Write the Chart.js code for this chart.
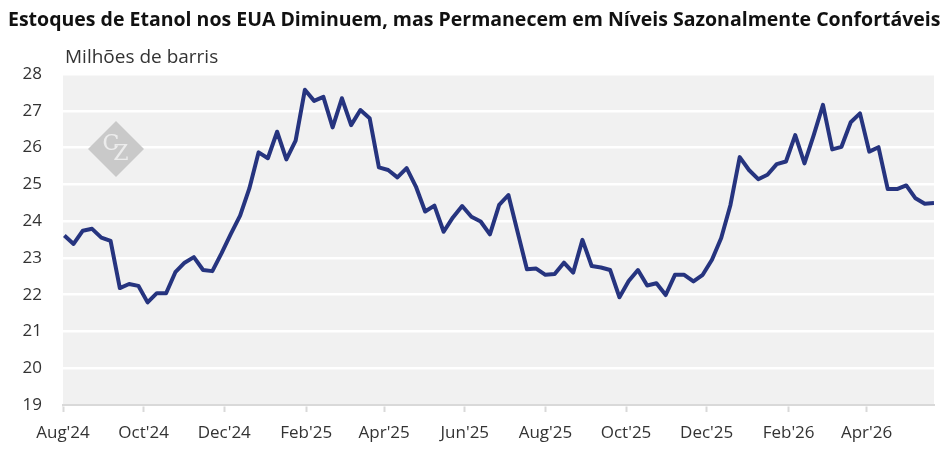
<!DOCTYPE html>
<html>
<head>
<meta charset="utf-8">
<script src="https://cdn.jsdelivr.net/npm/chart.js@4/dist/chart.umd.min.js"></script>
<style>
  html, body { margin: 0; padding: 0; background: #fff; }
  #wrap { position: relative; width: 950px; height: 455px; font-family: "Open Sans", sans-serif; }
  #title { position: absolute; left: 8px; top: 5px; font-size: 19.5px; font-weight: bold; color: #111; white-space: nowrap; }
  #unit { position: absolute; left: 65px; top: 43px; font-size: 19px; color: #333; }
  canvas { position: absolute; left: 0; top: 0; }
</style>
</head>
<body>
<div id="wrap">
  <canvas id="stocksChart" width="950" height="455"></canvas>
  <div id="title">Estoques de Etanol nos EUA Diminuem, mas Permanecem em Níveis Sazonalmente Confortáveis</div>
  <div id="unit">Milhões de barris</div>
</div>
<script>
// Semanas (sexta-feira), a partir de 02/08/2024
const firstWeek = '2024-08-02';
const axisStart = '2024-08-01';

// Estoques semanais de etanol (milhões de barris)
const stocks = [
  23.61, 23.38, 23.74, 23.79, 23.55, 23.46, 22.18, 22.29, 22.24, 21.79,
  22.04, 22.04, 22.61, 22.87, 23.02, 22.67, 22.64, 23.13, 23.65, 24.15,
  24.89, 25.87, 25.71, 26.43, 25.68, 26.19, 27.57, 27.27, 27.38, 26.55,
  27.34, 26.61, 27.02, 26.80, 25.46, 25.39, 25.19, 25.44, 24.94, 24.26,
  24.42, 23.71, 24.10, 24.41, 24.12, 23.99, 23.64, 24.44, 24.71, 23.70,
  22.69, 22.71, 22.54, 22.56, 22.87, 22.60, 23.49, 22.78, 22.74, 22.67,
  21.93, 22.37, 22.67, 22.25, 22.31, 21.99, 22.54, 22.54, 22.36, 22.54,
  22.95, 23.54, 24.44, 25.74, 25.39, 25.14, 25.26, 25.55, 25.62, 26.34,
  25.57, 26.34, 27.16, 25.95, 26.02, 26.69, 26.93, 25.89, 26.01, 24.87,
  24.87, 24.97, 24.62, 24.47, 24.49
];

// Marcas do eixo X
const tickDates = ['2024-08-01', '2024-10-01', '2024-12-01', '2025-02-01', '2025-04-01', '2025-06-01',
                   '2025-08-01', '2025-10-01', '2025-12-01', '2026-02-01', '2026-04-01'];
const tickLabels = ["Aug'24", "Oct'24", "Dec'24", "Feb'25", "Apr'25", "Jun'25",
                    "Aug'25", "Oct'25", "Dec'25", "Feb'26", "Apr'26"];

const DAY = 86400000;
const t0 = Date.parse(firstWeek);
const points = stocks.map((v, i) => ({ x: t0 + i * 7 * DAY, y: v }));
const tickValues = tickDates.map(d => Date.parse(d));

// fundo cinza da área do gráfico
const plotBg = {
  id: 'plotBg',
  beforeDraw(chart) {
    const { ctx, chartArea: a } = chart;
    ctx.save();
    ctx.fillStyle = '#f1f1f1';
    ctx.fillRect(a.left, a.top, a.right - a.left, a.bottom - a.top);
    ctx.restore();
  }
};

// marca d'água CZ
const watermark = {
  id: 'watermark',
  beforeDatasetsDraw(chart) {
    const ctx = chart.ctx;
    const cx = 116, cy = 149, r = 28;
    ctx.save();
    ctx.fillStyle = '#c9c9c9';
    ctx.beginPath();
    ctx.moveTo(cx, cy - r);
    ctx.lineTo(cx + r, cy);
    ctx.lineTo(cx, cy + r);
    ctx.lineTo(cx - r, cy);
    ctx.closePath();
    ctx.fill();
    ctx.fillStyle = '#ececec';
    ctx.font = '22px "DejaVu Serif", serif';
    ctx.textAlign = 'center';
    ctx.textBaseline = 'middle';
    ctx.fillText('C', cx - 5, cy - 5);
    ctx.fillText('Z', cx + 5, cy + 5);
    ctx.restore();
  }
};

new Chart(document.getElementById('stocksChart').getContext('2d'), {
  type: 'line',
  data: {
    datasets: [{
      data: points,
      borderColor: '#26347f',
      borderWidth: 4,
      pointRadius: 0,
      tension: 0,
      borderJoinStyle: 'round',
      fill: false
    }]
  },
  options: {
    responsive: false,
    animation: false,
    layout: { padding: { top: 74, right: 16, left: 0, bottom: 0 } },
    plugins: {
      legend: { display: false },
      tooltip: { enabled: false }
    },
    scales: {
      x: {
        type: 'linear',
        min: Date.parse(axisStart),
        max: points[points.length - 1].x,
        afterBuildTicks: s => { s.ticks = tickValues.map(v => ({ value: v })); },
        afterFit: s => { s.height = 50; },
        ticks: {
          autoSkip: false,
          maxRotation: 0,
          padding: 11,
          color: '#333',
          font: { family: 'Open Sans', size: 17 },
          callback: (v, i) => tickLabels[i]
        },
        grid: { drawOnChartArea: false, drawTicks: true, tickLength: 7, tickColor: '#d9d9d9', tickWidth: 2 },
        border: { color: '#d9d9d9', width: 2 }
      },
      y: {
        min: 19,
        max: 28,
        afterFit: s => { s.width = 63; },
        ticks: {
          stepSize: 1,
          padding: 21,
          color: '#333',
          font: { family: 'Open Sans', size: 17 }
        },
        grid: { color: '#ffffff', lineWidth: 2.5, drawTicks: false },
        border: { display: false }
      }
    }
  },
  plugins: [plotBg, watermark]
});
</script>
</body>
</html>
